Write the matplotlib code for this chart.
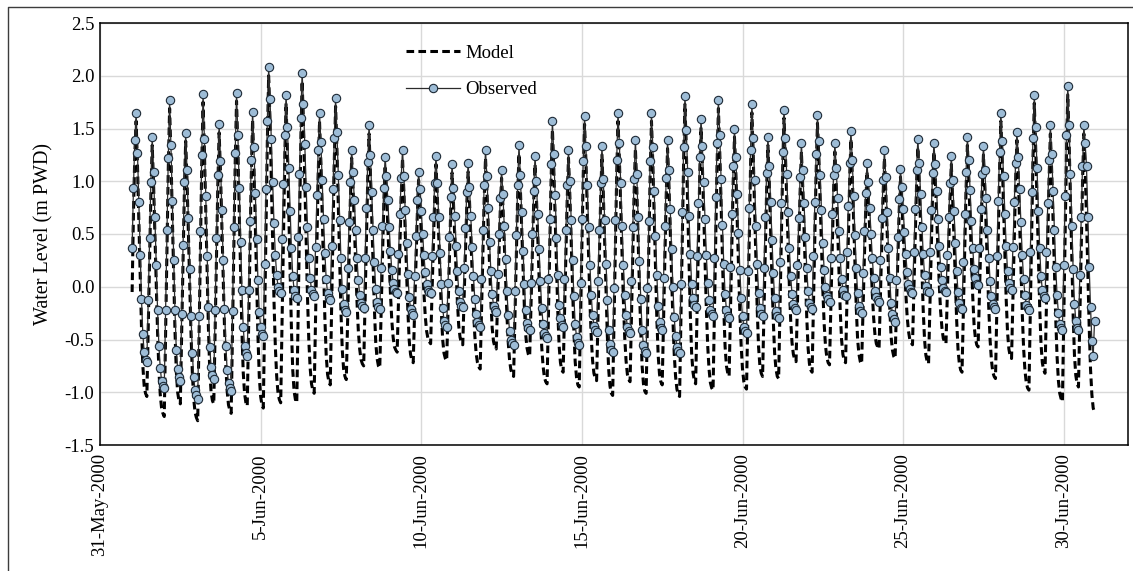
import matplotlib
matplotlib.use("Agg")
import matplotlib.pyplot as plt
from matplotlib.lines import Line2D
import pandas as pd

# hourly water level (m PWD), 1-Jun-2000 00:00 onwards, one line per tide
observed = [
    0.37, 0.94, 1.39,
    1.65, 1.27, 0.80, 0.30, -0.12, -0.45, -0.62, -0.69, -0.71, -0.13, 0.46, 0.99,
    1.42, 1.09, 0.66, 0.21, -0.22, -0.56, -0.77, -0.89, -0.94, -0.96, -0.22, 0.54, 1.22,
    1.77, 1.34, 0.81, 0.25, -0.22, -0.60, -0.78, -0.86, -0.89, -0.26, 0.40, 0.99,
    1.46, 1.11, 0.65, 0.17, -0.28, -0.63, -0.86, -0.98, -1.03, -1.06, -0.28, 0.53, 1.25,
    1.83, 1.40, 0.86, 0.29, -0.19, -0.57, -0.76, -0.84, -0.87, -0.22, 0.46, 1.06,
    1.54, 1.19, 0.73, 0.25, -0.21, -0.56, -0.79, -0.91, -0.96, -0.99, -0.23, 0.57, 1.27,
    1.84, 1.44, 0.94, 0.42, -0.03, -0.38, -0.56, -0.63, -0.66, -0.03, 0.62, 1.20,
    1.66, 1.32, 0.89, 0.45, 0.06, -0.24, -0.38, -0.45, -0.47, 0.22, 0.93, 1.57,
    2.08, 1.78, 1.40, 0.99, 0.60, 0.30, 0.11, 0.00, -0.04, -0.06, 0.45, 0.97, 1.44,
    1.82, 1.51, 1.13, 0.72, 0.37, 0.10, -0.03, -0.09, -0.11, 0.47, 1.07, 1.60,
    2.03, 1.73, 1.35, 0.95, 0.57, 0.27, 0.08, -0.03, -0.07, -0.09, 0.38, 0.87, 1.30,
    1.65, 1.37, 1.01, 0.64, 0.32, 0.07, -0.06, -0.11, -0.13, 0.39, 0.93, 1.41,
    1.79, 1.47, 1.06, 0.63, 0.27, -0.02, -0.16, -0.22, -0.24, 0.18, 0.61, 0.99,
    1.30, 1.09, 0.82, 0.54, 0.27, 0.06, -0.08, -0.15, -0.18, -0.20, 0.27, 0.75, 1.18,
    1.53, 1.25, 0.90, 0.54, 0.23, -0.02, -0.14, -0.19, -0.21, 0.18, 0.58, 0.94,
    1.23, 1.05, 0.82, 0.57, 0.34, 0.16, 0.04, -0.02, -0.05, -0.06, 0.31, 0.69, 1.03,
    1.30, 1.05, 0.73, 0.41, 0.12, -0.10, -0.21, -0.25, -0.27, 0.10, 0.48, 0.82,
    1.09, 0.93, 0.72, 0.50, 0.30, 0.14, 0.03, -0.03, -0.05, -0.06, 0.29, 0.66, 0.98,
    1.24, 0.98, 0.66, 0.32, 0.03, -0.20, -0.32, -0.36, -0.38, 0.04, 0.47, 0.85,
    1.16, 0.94, 0.67, 0.39, 0.15, -0.04, -0.14, -0.18, -0.19, 0.18, 0.56, 0.90,
    1.17, 0.95, 0.67, 0.38, 0.10, -0.12, -0.26, -0.33, -0.36, -0.38, 0.07, 0.54, 0.96,
    1.30, 1.05, 0.75, 0.42, 0.15, -0.07, -0.18, -0.22, -0.24, 0.12, 0.50, 0.84,
    1.11, 0.88, 0.58, 0.26, -0.04, -0.27, -0.42, -0.50, -0.53, -0.55, -0.04, 0.49, 0.96,
    1.34, 1.06, 0.71, 0.34, 0.03, -0.22, -0.34, -0.39, -0.41, 0.04, 0.50, 0.91,
    1.24, 1.00, 0.69, 0.36, 0.05, -0.20, -0.35, -0.44, -0.47, -0.49, 0.07, 0.64, 1.16,
    1.57, 1.26, 0.87, 0.46, 0.11, -0.17, -0.30, -0.36, -0.38, 0.07, 0.54, 0.96,
    1.30, 1.00, 0.63, 0.25, -0.09, -0.35, -0.48, -0.53, -0.55, 0.04, 0.64, 1.19,
    1.62, 1.33, 0.96, 0.57, 0.21, -0.08, -0.27, -0.37, -0.41, -0.43, 0.05, 0.54, 0.98,
    1.33, 1.02, 0.63, 0.22, -0.13, -0.41, -0.54, -0.60, -0.62, -0.01, 0.63, 1.20,
    1.65, 1.36, 0.98, 0.58, 0.21, -0.08, -0.27, -0.38, -0.42, -0.44, 0.05, 0.57, 1.02,
    1.39, 1.07, 0.66, 0.24, -0.12, -0.41, -0.55, -0.61, -0.63, -0.01, 0.62, 1.19,
    1.65, 1.32, 0.91, 0.48, 0.11, -0.18, -0.33, -0.39, -0.41, 0.08, 0.58, 1.03,
    1.39, 1.11, 0.74, 0.36, 0.00, -0.29, -0.47, -0.57, -0.61, -0.63, 0.03, 0.71, 1.32,
    1.81, 1.49, 1.09, 0.67, 0.31, 0.03, -0.11, -0.17, -0.19, 0.29, 0.79, 1.23,
    1.59, 1.33, 0.99, 0.64, 0.30, 0.04, -0.13, -0.22, -0.26, -0.28, 0.27, 0.85, 1.36,
    1.77, 1.44, 1.02, 0.59, 0.22, -0.07, -0.22, -0.28, -0.30, 0.19, 0.69, 1.14,
    1.50, 1.23, 0.88, 0.51, 0.16, -0.11, -0.28, -0.38, -0.42, -0.44, 0.15, 0.75, 1.30,
    1.73, 1.41, 1.01, 0.58, 0.22, -0.06, -0.20, -0.26, -0.28, 0.18, 0.66, 1.08,
    1.42, 1.14, 0.80, 0.44, 0.13, -0.11, -0.23, -0.28, -0.30, 0.23, 0.79, 1.28,
    1.68, 1.41, 1.07, 0.71, 0.37, 0.10, -0.07, -0.16, -0.20, -0.22, 0.21, 0.65, 1.04,
    1.36, 1.11, 0.79, 0.47, 0.18, -0.04, -0.15, -0.19, -0.21, 0.29, 0.80, 1.26,
    1.63, 1.38, 1.06, 0.73, 0.41, 0.16, 0.00, -0.09, -0.12, -0.14, 0.27, 0.69, 1.06,
    1.36, 1.13, 0.84, 0.53, 0.27, 0.07, -0.03, -0.08, -0.09, 0.33, 0.77, 1.17,
    1.48, 1.20, 0.86, 0.49, 0.18, -0.06, -0.18, -0.23, -0.25, 0.13, 0.53, 0.89,
    1.17, 0.99, 0.75, 0.50, 0.27, 0.08, -0.04, -0.10, -0.13, -0.14, 0.25, 0.65, 1.01,
    1.30, 1.04, 0.71, 0.37, 0.08, -0.15, -0.26, -0.31, -0.33, 0.06, 0.47, 0.83,
    1.12, 0.95, 0.74, 0.52, 0.31, 0.14, 0.03, -0.02, -0.05, -0.06, 0.33, 0.74, 1.11,
    1.40, 1.17, 0.88, 0.57, 0.31, 0.11, 0.01, -0.04, -0.05, 0.33, 0.73, 1.08,
    1.36, 1.16, 0.91, 0.64, 0.39, 0.19, 0.06, -0.01, -0.04, -0.05, 0.30, 0.66, 0.98,
    1.24, 1.01, 0.72, 0.41, 0.15, -0.05, -0.15, -0.20, -0.21, 0.23, 0.69, 1.09,
    1.42, 1.20, 0.92, 0.62, 0.37, 0.17, 0.08, 0.03, 0.02, 0.37, 0.74, 1.07,
    1.33, 1.11, 0.84, 0.54, 0.27, 0.05, -0.09, -0.16, -0.19, -0.21, 0.29, 0.81, 1.28,
    1.65, 1.38, 1.05, 0.69, 0.39, 0.15, 0.04, -0.01, -0.03, 0.38, 0.80, 1.17,
    1.47, 1.23, 0.93, 0.61, 0.30, 0.07, -0.08, -0.17, -0.20, -0.22, 0.33, 0.90, 1.41,
    1.82, 1.51, 1.13, 0.72, 0.37, 0.10, -0.03, -0.09, -0.11, 0.33, 0.79, 1.20,
    1.53, 1.26, 0.91, 0.54, 0.19, -0.08, -0.25, -0.35, -0.39, -0.41, 0.21, 0.86, 1.44,
    1.90, 1.53, 1.07, 0.58, 0.17, -0.16, -0.32, -0.39, -0.41, 0.11, 0.66, 1.14,
    1.53, 1.36, 1.14, 0.66, 0.19, -0.19, -0.51, -0.66, -0.32,
]

model = [
    -0.05, 0.70, 1.25,
    1.57, 1.15, 0.63, 0.08, -0.39, -0.75, -0.94, -1.01, -1.04, -0.40, 0.27, 0.86,
    1.34, 0.98, 0.52, 0.03, -0.43, -0.79, -1.02, -1.15, -1.20, -1.23, -0.44, 0.38, 1.11,
    1.69, 1.24, 0.68, 0.09, -0.41, -0.80, -1.00, -1.08, -1.11, -0.44, 0.26, 0.88,
    1.38, 1.01, 0.53, 0.03, -0.45, -0.82, -1.06, -1.19, -1.24, -1.27, -0.45, 0.39, 1.15,
    1.75, 1.29, 0.72, 0.12, -0.39, -0.80, -1.00, -1.08, -1.11, -0.42, 0.30, 0.95,
    1.46, 1.09, 0.61, 0.10, -0.38, -0.75, -0.99, -1.12, -1.17, -1.20, -0.40, 0.43, 1.17,
    1.76, 1.30, 0.72, 0.11, -0.41, -0.81, -1.01, -1.10, -1.13, -0.40, 0.36, 1.04,
    1.58, 1.14, 0.60, 0.02, -0.47, -0.85, -1.04, -1.12, -1.15, -0.30, 0.58, 1.37,
    2.00, 1.57, 1.01, 0.42, -0.14, -0.57, -0.85, -1.01, -1.07, -1.10, -0.33, 0.46, 1.17,
    1.74, 1.29, 0.72, 0.12, -0.39, -0.79, -0.99, -1.07, -1.10, -0.28, 0.58, 1.34,
    1.95, 1.54, 1.00, 0.44, -0.09, -0.51, -0.77, -0.92, -0.98, -1.01, -0.31, 0.41, 1.05,
    1.57, 1.17, 0.67, 0.15, -0.30, -0.65, -0.83, -0.90, -0.93, -0.22, 0.52, 1.18,
    1.71, 1.30, 0.78, 0.23, -0.23, -0.60, -0.78, -0.85, -0.88, -0.31, 0.28, 0.80,
    1.22, 0.94, 0.59, 0.22, -0.14, -0.42, -0.59, -0.69, -0.73, -0.75, -0.16, 0.46, 1.01,
    1.45, 1.09, 0.65, 0.18, -0.21, -0.53, -0.68, -0.75, -0.77, -0.25, 0.29, 0.77,
    1.15, 0.90, 0.58, 0.25, -0.07, -0.32, -0.48, -0.57, -0.60, -0.62, -0.12, 0.39, 0.85,
    1.22, 0.91, 0.52, 0.11, -0.23, -0.51, -0.64, -0.70, -0.72, -0.25, 0.23, 0.66,
    1.01, 0.79, 0.51, 0.22, -0.06, -0.28, -0.42, -0.49, -0.52, -0.54, -0.08, 0.40, 0.82,
    1.16, 0.86, 0.49, 0.10, -0.23, -0.50, -0.63, -0.68, -0.70, -0.22, 0.28, 0.72,
    1.08, 0.82, 0.49, 0.15, -0.14, -0.37, -0.48, -0.53, -0.55, -0.11, 0.35, 0.76,
    1.09, 0.83, 0.49, 0.14, -0.20, -0.46, -0.63, -0.72, -0.76, -0.78, -0.24, 0.32, 0.82,
    1.22, 0.93, 0.57, 0.19, -0.14, -0.39, -0.52, -0.57, -0.59, -0.15, 0.30, 0.71,
    1.03, 0.77, 0.43, 0.07, -0.27, -0.53, -0.70, -0.79, -0.83, -0.85, -0.28, 0.31, 0.84,
    1.26, 0.95, 0.57, 0.17, -0.18, -0.45, -0.58, -0.64, -0.66, -0.17, 0.34, 0.80,
    1.16, 0.87, 0.49, 0.10, -0.28, -0.57, -0.75, -0.86, -0.90, -0.92, -0.27, 0.41, 1.01,
    1.49, 1.12, 0.66, 0.18, -0.23, -0.56, -0.72, -0.79, -0.81, -0.26, 0.31, 0.81,
    1.22, 0.87, 0.44, -0.02, -0.41, -0.71, -0.86, -0.93, -0.95, -0.28, 0.42, 1.04,
    1.54, 1.20, 0.76, 0.30, -0.14, -0.48, -0.70, -0.82, -0.87, -0.89, -0.31, 0.29, 0.82,
    1.25, 0.89, 0.43, -0.05, -0.46, -0.78, -0.94, -1.01, -1.03, -0.33, 0.40, 1.05,
    1.57, 1.22, 0.78, 0.31, -0.13, -0.48, -0.70, -0.83, -0.88, -0.90, -0.30, 0.32, 0.87,
    1.31, 0.94, 0.47, -0.01, -0.43, -0.75, -0.92, -0.99, -1.01, -0.31, 0.41, 1.05,
    1.57, 1.17, 0.67, 0.15, -0.30, -0.65, -0.83, -0.90, -0.93, -0.33, 0.30, 0.86,
    1.31, 0.98, 0.56, 0.11, -0.31, -0.64, -0.85, -0.97, -1.02, -1.04, -0.29, 0.48, 1.18,
    1.73, 1.31, 0.78, 0.22, -0.26, -0.63, -0.81, -0.89, -0.92, -0.26, 0.42, 1.02,
    1.51, 1.16, 0.71, 0.24, -0.21, -0.56, -0.78, -0.91, -0.96, -0.98, -0.26, 0.49, 1.16,
    1.69, 1.28, 0.78, 0.24, -0.21, -0.57, -0.75, -0.82, -0.85, -0.24, 0.40, 0.97,
    1.42, 1.09, 0.66, 0.20, -0.23, -0.56, -0.78, -0.90, -0.95, -0.97, -0.26, 0.47, 1.13,
    1.65, 1.25, 0.75, 0.23, -0.22, -0.57, -0.75, -0.82, -0.85, -0.26, 0.35, 0.90,
    1.34, 0.99, 0.54, 0.08, -0.32, -0.63, -0.78, -0.85, -0.87, -0.20, 0.49, 1.11,
    1.60, 1.28, 0.86, 0.42, 0.01, -0.32, -0.53, -0.64, -0.69, -0.71, -0.17, 0.38, 0.88,
    1.28, 0.95, 0.53, 0.09, -0.29, -0.58, -0.73, -0.79, -0.81, -0.17, 0.49, 1.08,
    1.55, 1.23, 0.82, 0.38, -0.03, -0.35, -0.56, -0.67, -0.72, -0.74, -0.19, 0.37, 0.88,
    1.28, 0.96, 0.56, 0.14, -0.22, -0.50, -0.64, -0.70, -0.72, -0.15, 0.45, 0.98,
    1.40, 1.06, 0.63, 0.19, -0.20, -0.50, -0.64, -0.71, -0.73, -0.24, 0.27, 0.73,
    1.09, 0.85, 0.55, 0.23, -0.07, -0.30, -0.46, -0.54, -0.57, -0.59, -0.10, 0.41, 0.86,
    1.22, 0.92, 0.54, 0.14, -0.20, -0.47, -0.60, -0.66, -0.68, -0.22, 0.27, 0.70,
    1.04, 0.82, 0.53, 0.23, -0.06, -0.28, -0.42, -0.50, -0.53, -0.55, -0.05, 0.48, 0.95,
    1.32, 0.99, 0.58, 0.15, -0.22, -0.50, -0.65, -0.71, -0.73, -0.19, 0.38, 0.88,
    1.28, 1.03, 0.70, 0.35, 0.02, -0.23, -0.39, -0.49, -0.52, -0.54, -0.08, 0.40, 0.82,
    1.16, 0.84, 0.45, 0.04, -0.32, -0.59, -0.73, -0.79, -0.81, -0.23, 0.37, 0.91,
    1.34, 1.03, 0.65, 0.25, -0.09, -0.36, -0.49, -0.55, -0.57, -0.08, 0.43, 0.89,
    1.25, 0.95, 0.57, 0.17, -0.21, -0.51, -0.70, -0.81, -0.85, -0.87, -0.21, 0.47, 1.08,
    1.57, 1.21, 0.76, 0.29, -0.12, -0.43, -0.59, -0.66, -0.68, -0.12, 0.46, 0.98,
    1.39, 1.06, 0.63, 0.18, -0.25, -0.58, -0.79, -0.91, -0.96, -0.98, -0.25, 0.52, 1.20,
    1.74, 1.33, 0.82, 0.28, -0.18, -0.54, -0.72, -0.79, -0.82, -0.21, 0.43, 1.00,
    1.45, 1.09, 0.64, 0.15, -0.30, -0.66, -0.89, -1.01, -1.06, -1.09, -0.30, 0.51, 1.24,
    1.82, 1.38, 0.82, 0.24, -0.26, -0.65, -0.84, -0.92, -0.95, -0.30, 0.37, 0.97,
    1.45, 1.12, 0.65, 0.12, -0.38, -0.78, -1.02, -1.15, -1.19,
]

start = "2000-06-01 00:00"
tick_dates = ["2000-05-31", "2000-06-05", "2000-06-10", "2000-06-15",
              "2000-06-20", "2000-06-25", "2000-06-30"]
tick_labels = ["31-May-2000", "5-Jun-2000", "10-Jun-2000", "15-Jun-2000",
               "20-Jun-2000", "25-Jun-2000", "30-Jun-2000"]
y_ticks = [-1.5, -1.0, -0.5, 0.0, 0.5, 1.0, 1.5, 2.0, 2.5]

plt.rcParams["font.family"] = ["Liberation Serif", "DejaVu Serif"]

W, H = 1133, 571
fig = plt.figure(figsize=(W / 100, H / 100), dpi=100)
ax = fig.add_axes([100 / W, 1 - 445 / H, 1028 / W, 422 / H])

t_obs = pd.date_range(start, periods=len(observed), freq="h")
t_mod = pd.date_range(start, periods=len(model), freq="h")

ax.plot(t_mod, model, color="black", lw=2.2, ls=(0, (2.5, 1.4)),
        label="Model", zorder=2)
ax.plot(t_obs, observed, color="#2b2b2b", lw=0.9, marker="o", ms=6,
        mfc="#9dbcd6", mec="#1d2a36", mew=0.8, label="Observed", zorder=3)

ax.set_xlim(pd.Timestamp("2000-05-31"), pd.Timestamp("2000-07-02"))
ax.set_ylim(-1.5, 2.5)
ax.set_yticks(y_ticks)
ax.set_yticklabels([f"{v:.1f}" for v in y_ticks])
ax.set_xticks(pd.to_datetime(tick_dates))
ax.set_xticklabels(tick_labels, rotation=90)
ax.grid(True, color="#d9d9d9", lw=1)
ax.set_axisbelow(True)
ax.tick_params(length=0, labelsize=13.5)
ax.tick_params(axis="y", pad=4)
ax.tick_params(axis="x", pad=6)
ax.set_ylabel("Water Level (m PWD)", fontsize=14.5, labelpad=8)
for s in ax.spines.values():
    s.set_color("black")
    s.set_linewidth(1.1)

ax.legend(loc="upper left", bbox_to_anchor=((397 - 100) / 1028, 1 - (35 - 23) / 422),
          frameon=False, borderpad=0, labelspacing=1.05, handlelength=2.85,
          handletextpad=0.3, fontsize=13.5)

# chart-area border along the left and top edges
fig.add_artist(Line2D([8 / W, 8 / W, 1], [0, 1 - 7 / H, 1 - 7 / H],
                      transform=fig.transFigure, color="#3c3c3c", lw=1))

fig.savefig("out.png", dpi=100)
